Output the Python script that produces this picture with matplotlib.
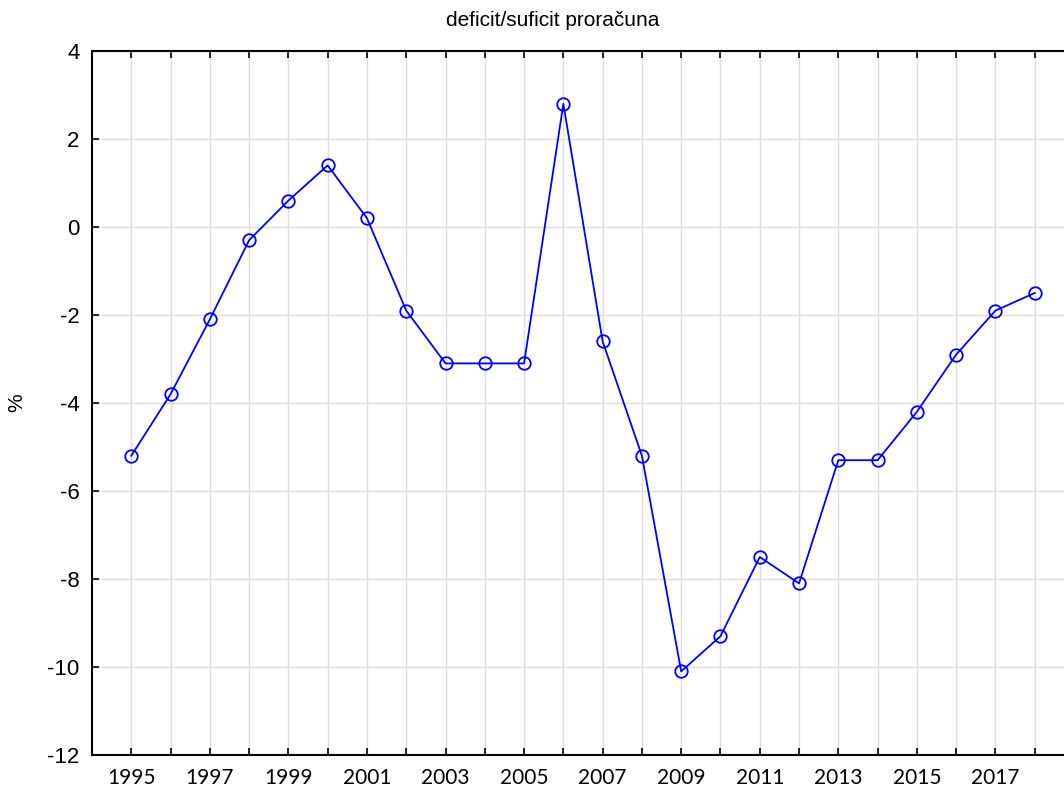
import matplotlib
matplotlib.use("Agg")
import matplotlib.pyplot as plt
from matplotlib.ticker import MultipleLocator

plt.rcParams["axes.unicode_minus"] = False

# podaci
godine = list(range(1995, 2019))
saldo = [-5.2, -3.8, -2.1, -0.3, 0.6, 1.4, 0.2, -1.9, -3.1, -3.1, -3.1, 2.8,
         -2.6, -5.2, -10.1, -9.3, -7.5, -8.1, -5.3, -5.3, -4.2, -2.9, -1.9, -1.5]
oznake_x = list(range(1995, 2019, 2))

fig = plt.figure(figsize=(10.64, 7.96), dpi=100)
# osi malo izlaze desno izvan slike, kao na originalu
ax = fig.add_axes([92 / 1064, 1 - 755 / 796, (1074 - 92) / 1064, (755 - 51) / 796])

ax.plot(godine, saldo, color="#0000ff", lw=1.3, marker="o", ms=9,
        mfc="none", mec="#0000ff", mew=1.3, zorder=3)

ax.set_xlim(1994, 2019)
ax.set_ylim(-12, 4)
ax.set_xticks(godine)
ax.set_xticklabels([str(g) if g in oznake_x else "" for g in godine],
                   family="Lato", fontsize=15)
ax.yaxis.set_major_locator(MultipleLocator(2))
for t in ax.get_yticklabels():
    t.set_family("Liberation Sans")
    t.set_fontsize(16)

ax.tick_params(axis="x", direction="in", length=5, width=1.2, top=True, pad=9)
ax.tick_params(axis="y", direction="in", length=5, width=1.2, pad=9)
ax.grid(True, color="#dddddd", lw=1)
ax.set_axisbelow(True)

for s in ["left", "top", "bottom"]:
    ax.spines[s].set_linewidth(1.5)
ax.spines["right"].set_visible(False)

ax.set_ylabel("%", family="Liberation Sans", fontsize=15, labelpad=15)
fig.text(553 / 1064, 1 - 21 / 796, "deficit/suficit proračuna",
         ha="center", va="center", family="Liberation Sans", fontsize=15)

fig.savefig("out.png", dpi=100)
